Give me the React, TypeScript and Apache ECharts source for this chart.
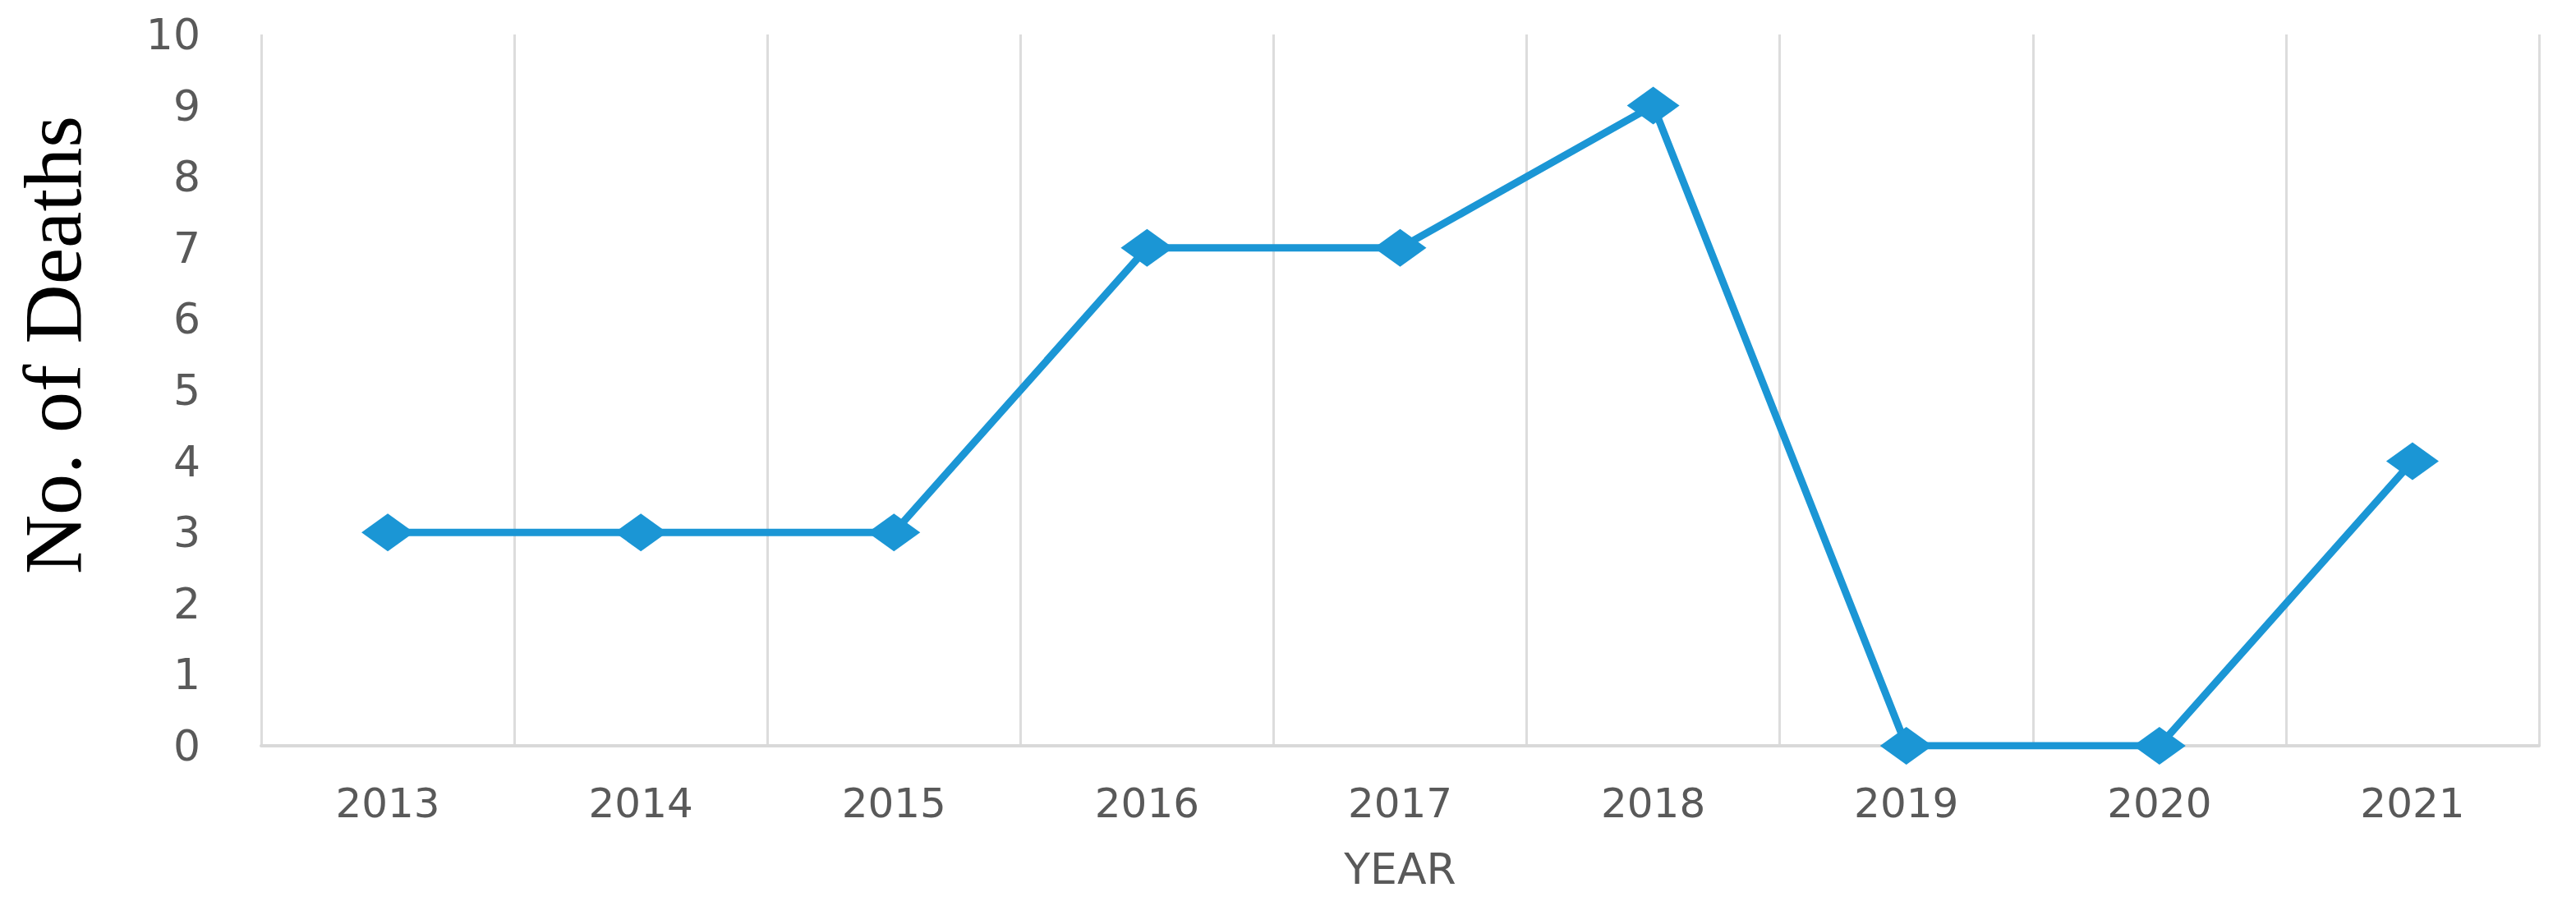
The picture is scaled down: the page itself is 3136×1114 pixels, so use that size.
import React, { useEffect, useRef } from "react";
import * as echarts from "echarts";

const years = ["2013", "2014", "2015", "2016", "2017", "2018", "2019", "2020", "2021"];
const deaths = [3, 3, 3, 7, 7, 9, 0, 0, 4];
const yTitle = "No. of Deaths";
const xTitle = "YEAR";

export default function App() {
  const ref = useRef<HTMLDivElement>(null);
  useEffect(() => {
    if (!ref.current) return;
    const chart = echarts.init(ref.current, null, { renderer: "svg" });
    chart.setOption({
      animation: false,
      backgroundColor: "#ffffff",
      grid: { left: 318, right: 45, top: 42, bottom: 206, containLabel: false },
      xAxis: {
        type: "category",
        data: years,
        boundaryGap: true,
        name: xTitle,
        nameLocation: "middle",
        nameGap: 124,
        nameTextStyle: { color: "#595959", fontSize: 52, fontFamily: "DejaVu Sans" },
        axisLine: { show: true, lineStyle: { color: "#d9d9d9", width: 4 } },
        axisTick: { show: false },
        axisLabel: {
          color: "#595959",
          fontSize: 50,
          fontFamily: "DejaVu Sans",
          margin: 45,
        },
        splitLine: { show: true, lineStyle: { color: "#dcdcdc", width: 3 } },
      },
      yAxis: {
        type: "value",
        min: 0,
        max: 10,
        interval: 1,
        axisLine: { show: false },
        axisTick: { show: false },
        splitLine: { show: false },
        axisLabel: {
          color: "#595959",
          fontSize: 52,
          fontFamily: "DejaVu Sans",
          margin: 74,
        },
      },
      graphic: [
        {
          type: "text",
          x: 64,
          y: 420,
          rotation: Math.PI / 2,
          style: {
            text: yTitle,
            fill: "#000000",
            fontSize: 100,
            fontFamily: "Liberation Serif",
            textAlign: "center",
            textVerticalAlign: "middle",
            verticalAlign: "middle",
          },
        },
      ],
      series: [
        {
          type: "line",
          data: deaths,
          symbol: "diamond",
          symbolSize: [64, 46],
          lineStyle: { color: "#1b96d5", width: 9 },
          itemStyle: { color: "#1b96d5" },
          z: 3,
        },
      ],
    });
    return () => chart.dispose();
  }, []);
  return (
    <div
      ref={ref}
      style={{ position: "fixed", left: 0, top: 0, width: 3136, height: 1114 }}
    />
  );
}
